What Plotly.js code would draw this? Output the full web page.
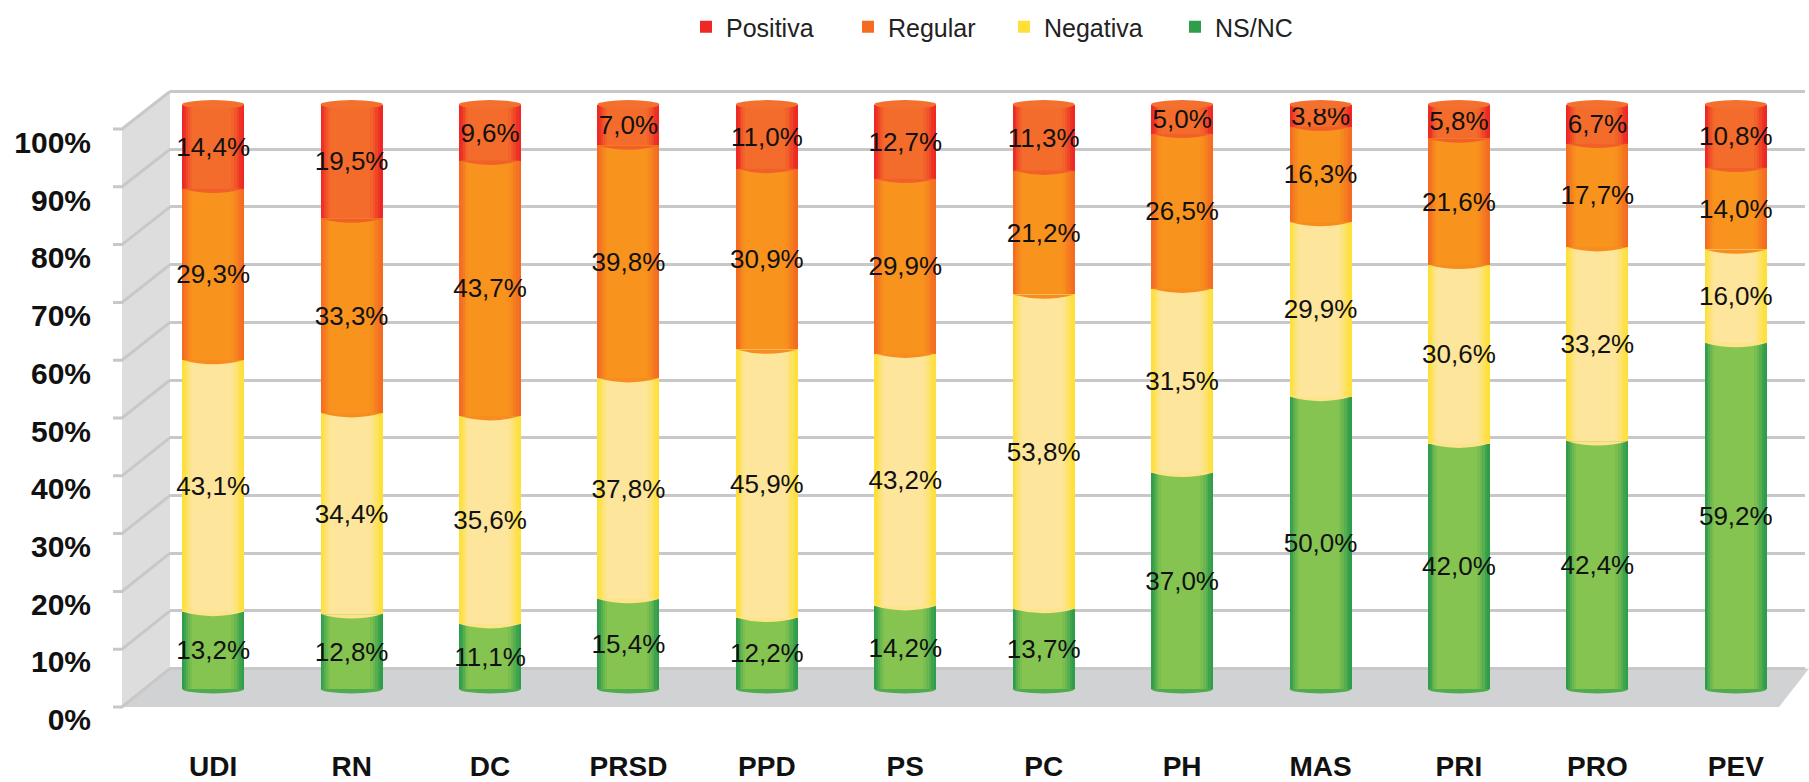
<!DOCTYPE html>
<html>
<head>
<meta charset="utf-8">
<script src="https://cdn.plot.ly/plotly-3.0.1.min.js"></script>
<style>html,body{margin:0;padding:0;background:#fff;}#chart{width:1809px;height:782px;}</style>
</head>
<body>
<div id="chart"></div>
<script>
// ---- data ----
const categories = ['UDI','RN','DC','PRSD','PPD','PS','PC','PH','MAS','PRI','PRO','PEV'];
const positiva = [14.4,19.5,9.6,7.0,11.0,12.7,11.3,5.0,3.8,5.8,6.7,10.8];
const regular  = [29.3,33.3,43.7,39.8,30.9,29.9,21.2,26.5,16.3,21.6,17.7,14.0];
const negativa = [43.1,34.4,35.6,37.8,45.9,43.2,53.8,31.5,29.9,30.6,33.2,16.0];
const nsnc     = [13.2,12.8,11.1,15.4,12.2,14.2,13.7,37.0,50.0,42.0,42.4,59.2];
const yTickVals = [0,10,20,30,40,50,60,70,80,90,100];
const yTickText = ['0%','10%','20%','30%','40%','50%','60%','70%','80%','90%','100%'];

// ---- style ----
const W = 0.448;           // bar width (category units)
const W_PX = 1661, H_PX = 660, L_PX = 144, T_PX = 80;
function px(xp){ return (xp - L_PX) / W_PX; }
function py(yp){ return (T_PX + H_PX - yp) / H_PX; }

const seriesDefs = [
  {name:'NS/NC',    vals:nsnc,     edge:[33,150,74],  center:[134,196,81],  legend:'legend4', lx:1175},
  {name:'Negativa', vals:negativa, edge:[255,222,40], center:[253,229,156], legend:'legend3', lx:1004},
  {name:'Regular',  vals:regular,  edge:[242,101,34], center:[248,148,30],  legend:'legend2', lx:848},
  {name:'Positiva', vals:positiva, edge:[237,28,36],  center:[243,108,43],  legend:'legend',  lx:686}
];

function mix(a,b,t){ return 'rgb(' + a.map((v,i)=>Math.round(v+(b[i]-v)*t)).join(',') + ')'; }
function fmt(v){ return v.toFixed(1).replace('.', ',') + '%'; }

// bases computed from the data
const bases = [];
let run = categories.map(()=>0);
seriesDefs.forEach(s => { bases.push(run.slice()); run = run.map((r,i)=>r + s.vals[i]); });
const totals = run;

const layers = [
  {s:1.00, t:0.00}, {s:0.93, t:0.28}, {s:0.86, t:0.52},
  {s:0.79, t:0.72}, {s:0.72, t:0.88}, {s:0.64, t:1.00}
];
const CX = 0.42;

const traces = [];
// empty trace so the back-wall subplot (x, y) is drawn first
traces.push({type:'scatter', x:[], y:[], xaxis:'x', yaxis:'y', mode:'markers', showlegend:false, hoverinfo:'skip'});
seriesDefs.forEach((sd, si) => {
  layers.forEach((ly, li) => {
    const w = W * ly.s;
    traces.push({
      type:'bar', x:categories, y:sd.vals, base:bases[si],
      xaxis:'x2', yaxis:'y2',
      width: w, offset: -W/2 + W*CX*(1-ly.s),
      marker:{color: mix(sd.edge, sd.center, li === 0 ? 0.15 : ly.t), line:{width:0}},
      name: sd.name, legend: sd.legend, showlegend: li === 0,
      hoverinfo:'skip'
    });
  });
});
// text layers
seriesDefs.forEach((sd, si) => {
  traces.push({
    type:'bar', x:categories, y:sd.vals, base:bases[si],
    xaxis:'x2', yaxis:'y2', width:W, offset:-W/2,
    marker:{color:'rgba(0,0,0,0)', line:{width:0}},
    text: sd.vals.map(fmt), textposition:'inside', insidetextanchor:'middle',
    textangle:0, constraintext:'none',
    textfont:{family:'Liberation Sans, Arial, sans-serif', size:26, color:'#111'},
    showlegend:false, hoverinfo:'skip', cliponaxis:false
  });
});

// ---- decorative 3D frame ----
const shapes = [];
const gridCol = '#c8c8c8';
shapes.push({type:'path', xref:'paper', yref:'paper', layer:'below',
  path:`M ${px(122)},${py(707)} L ${px(122)},${py(129)} L ${px(170)},${py(91.5)} L ${px(170)},${py(668.5)} Z`,
  fillcolor:'#dcdddc', line:{width:0}});
shapes.push({type:'path', xref:'paper', yref:'paper', layer:'below',
  path:`M ${px(122)},${py(707)} L ${px(170)},${py(668.5)} L ${px(1809)},${py(668.5)} L ${px(1779)},${py(707)} Z`,
  fillcolor:'#d1d2d4', line:{width:0}});
yTickVals.forEach((v,k) => {
  const fy = 707 - k*57.8, by = 668.5 - k*57.7;
  shapes.push({type:'path', xref:'paper', yref:'paper', layer:'below',
    path:`M ${px(113)},${py(fy)} L ${px(122)},${py(fy)} L ${px(170)},${py(by)}`,
    line:{color:gridCol, width:3}});
});
const capH = 0.75;
categories.forEach((c,i) => {
  shapes.push({type:'circle', xref:'x2', yref:'y2', layer:'below',
    x0:i-W/2, x1:i+W/2, y0:-capH, y1:capH, fillcolor:'rgb(80,170,78)', line:{width:0}});
  for (let si=1; si<seriesDefs.length; si++) {
    const b = bases[si][i];
    shapes.push({type:'path', xref:'x2', yref:'y2', layer:'above',
      path:`M ${i-W/2+0.004},${b} Q ${i},${b-2*capH} ${i+W/2-0.004},${b} Z`,
      fillcolor: mix(seriesDefs[si].edge, seriesDefs[si].center, 0.85), line:{width:0}});
  }
  shapes.push({type:'circle', xref:'x2', yref:'y2', layer:'above',
    x0:i-W/2, x1:i+W/2, y0:totals[i]-capH, y1:totals[i]+capH,
    fillcolor:'rgb(243,112,46)', line:{width:0}});
});

const legendFont = {family:'Liberation Sans, Arial, sans-serif', size:25, color:'#222'};
function legendAt(xpx){
  return {orientation:'h', x:px(xpx), xanchor:'left', y:py(27), yanchor:'middle',
    font:legendFont, itemwidth:30, bgcolor:'rgba(0,0,0,0)'};
}

const layout = {
  width:1809, height:782,
  margin:{l:L_PX, r:1809-L_PX-W_PX, t:T_PX, b:782-T_PX-H_PX},
  paper_bgcolor:'#ffffff', plot_bgcolor:'rgba(0,0,0,0)',
  barmode:'overlay', bargap:0,
  showlegend:true,
  legend: legendAt(686), legend2: legendAt(848), legend3: legendAt(1004), legend4: legendAt(1175),
  xaxis:{domain:[px(170),1], range:[0,1], showticklabels:false, showgrid:false, zeroline:false,
    showline:false, ticks:'', fixedrange:true},
  yaxis:{range:[-(740-668.5)/5.77, 100 + 11.5/5.77], tickvals:yTickVals, ticktext:yTickText,
    showgrid:true, gridcolor:gridCol, gridwidth:3, zeroline:false, showline:false, ticks:'',
    ticklabelshift:51, ticklabelstandoff:78,
    tickfont:{family:'Liberation Sans, Arial, sans-serif', size:30, color:'#111', weight:'bold'}},
  xaxis2:{domain:[0,1], anchor:'y2', type:'category', range:[-0.5,11.5], showgrid:false, zeroline:false,
    showline:false, ticks:'', ticklabelstandoff:7,
    tickfont:{family:'Liberation Sans, Arial, sans-serif', size:28, color:'#111', weight:'bold'}},
  yaxis2:{overlaying:'y', anchor:'x2', range:[-(740-689)/5.845, 100 + (104.5-80)/5.845],
    showticklabels:false, showgrid:false, zeroline:false, showline:false, ticks:''},
  shapes:shapes
};

Plotly.newPlot('chart', traces, layout, {displayModeBar:false, staticPlot:true});
</script>
</body>
</html>
